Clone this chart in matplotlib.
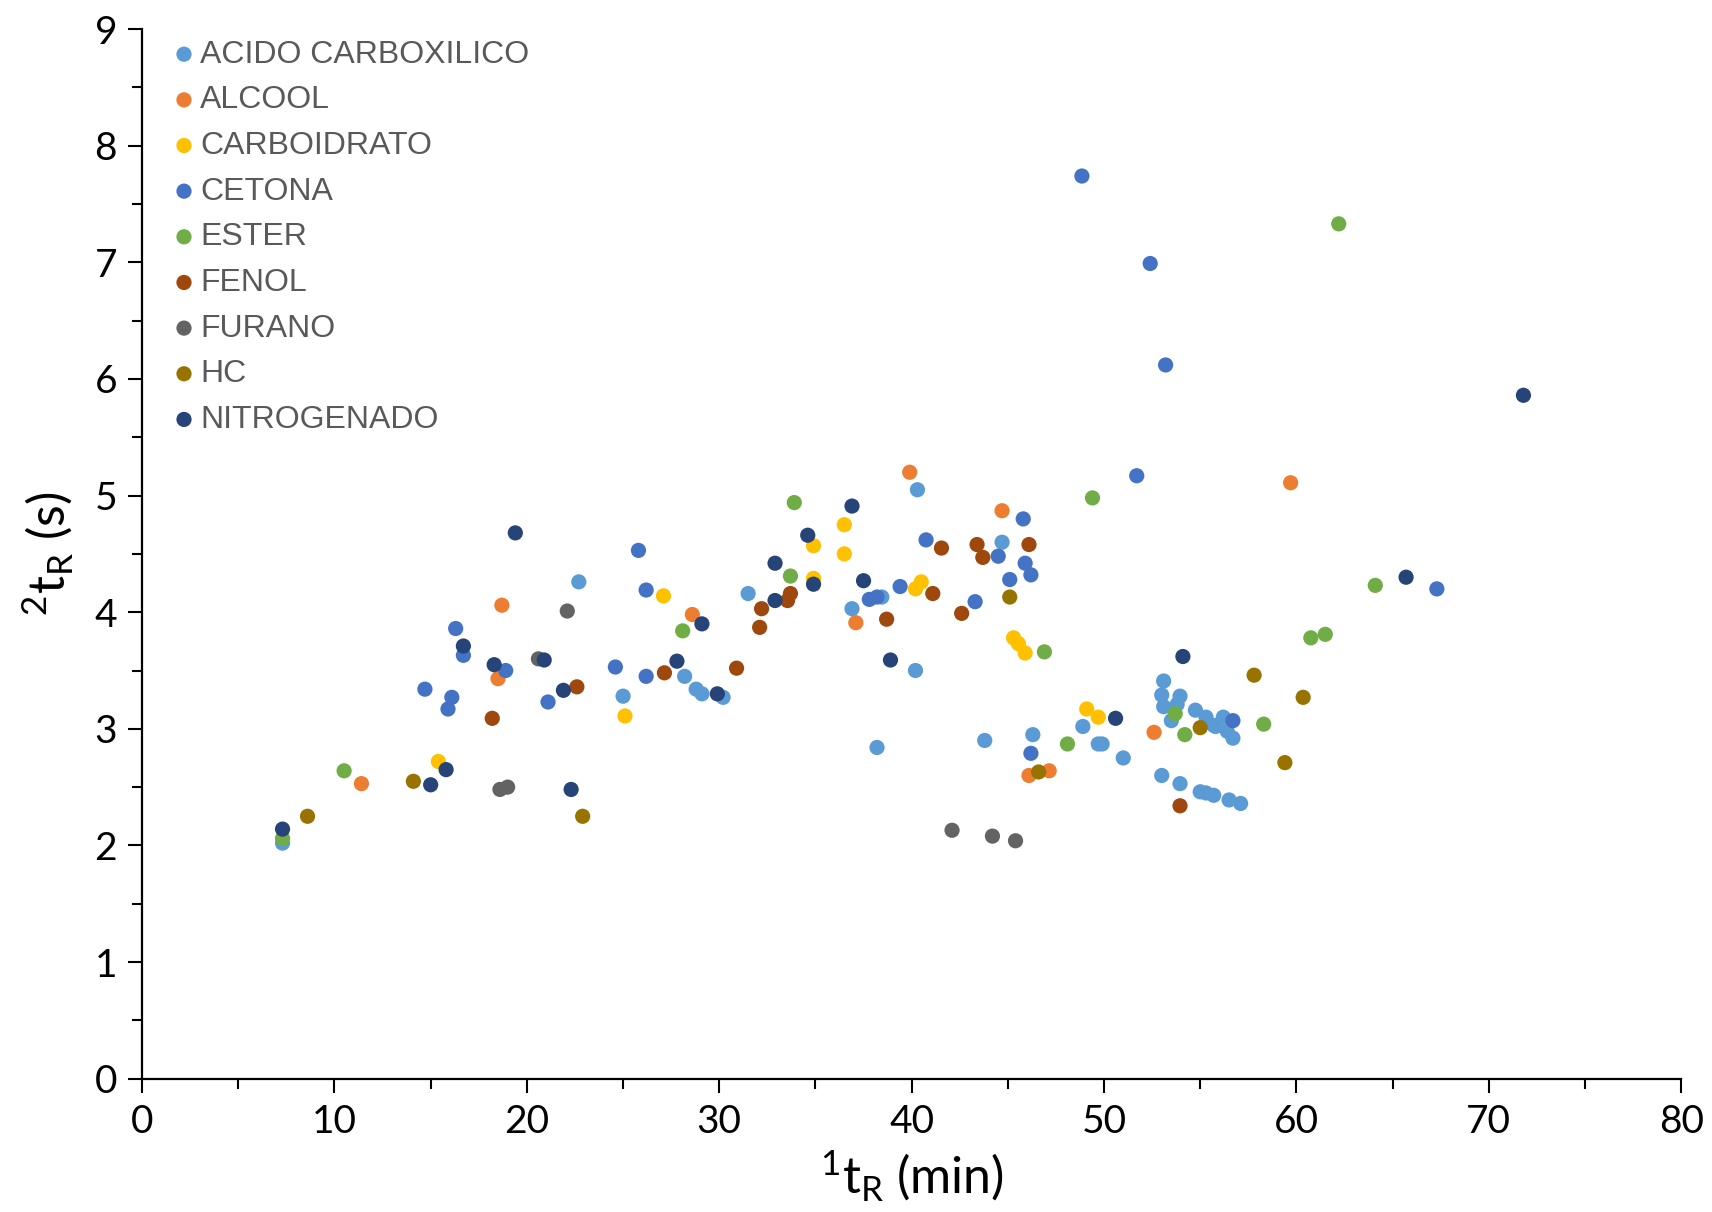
import matplotlib
matplotlib.use("Agg")
import matplotlib.pyplot as plt
from matplotlib.ticker import MultipleLocator

plt.rcParams['font.family'] = ['Lato', 'DejaVu Sans']

# compound classes and their colours
classes = ['ACIDO CARBOXILICO', 'ALCOOL', 'CARBOIDRATO', 'CETONA', 'ESTER',
           'FENOL', 'FURANO', 'HC', 'NITROGENADO']
colors = ['#5B9BD5', '#ED7D31', '#FFC000', '#4472C4', '#70AD47',
          '#9E480E', '#636363', '#997300', '#264478']

# first dimension retention (min) / second dimension retention (s)
ac_x = [7.3, 22.7, 25.0, 28.2, 28.8, 29.1, 30.2, 31.5, 36.9, 38.45, 40.3, 40.2, 38.2, 44.7,
        43.8, 46.3, 48.9, 49.7, 49.9, 51.0, 53.1, 53.0, 53.1, 53.95, 53.8, 53.5, 54.75, 55.3,
        55.7, 56.2, 55.8, 56.4, 56.7, 53.0, 53.95, 55.0, 55.3, 55.7, 56.5, 57.1]
ac_y = [2.02, 4.26, 3.28, 3.45, 3.34, 3.30, 3.27, 4.16, 4.03, 4.13, 5.05, 3.50, 2.84, 4.60,
        2.90, 2.95, 3.02, 2.87, 2.87, 2.75, 3.41, 3.29, 3.19, 3.28, 3.21, 3.07, 3.16, 3.10,
        3.03, 3.10, 3.02, 2.98, 2.92, 2.60, 2.53, 2.46, 2.45, 2.43, 2.39, 2.36]

alcool_x = [11.4, 18.5, 18.7, 28.6, 39.9, 44.7, 37.1, 46.1, 47.15, 52.6, 59.7]
alcool_y = [2.53, 3.43, 4.06, 3.98, 5.20, 4.87, 3.91, 2.60, 2.64, 2.97, 5.11]

carb_x = [15.4, 25.1, 27.1, 36.5, 36.5, 34.9, 34.9, 40.5, 40.2, 45.3, 45.55, 45.9, 49.1, 49.7]
carb_y = [2.72, 3.11, 4.14, 4.75, 4.50, 4.57, 4.29, 4.26, 4.20, 3.78, 3.73, 3.65, 3.17, 3.10]

cetona_x = [14.7, 15.9, 16.1, 16.3, 16.7, 18.9, 21.1, 24.6, 25.8, 26.2, 26.2, 37.8, 38.2, 39.4,
            40.75, 43.3, 44.5, 45.1, 45.8, 45.9, 46.2, 46.2, 48.85, 51.7, 52.4, 53.2, 56.7, 67.3]
cetona_y = [3.34, 3.17, 3.27, 3.86, 3.63, 3.50, 3.23, 3.53, 4.53, 4.19, 3.45, 4.11, 4.13, 4.22,
            4.62, 4.09, 4.48, 4.28, 4.80, 4.42, 4.32, 2.79, 7.74, 5.17, 6.99, 6.12, 3.07, 4.20]

ester_x = [7.3, 10.5, 28.1, 33.9, 33.7, 46.9, 49.4, 48.1, 53.7, 54.2, 58.3, 60.75, 61.5, 64.1, 62.2]
ester_y = [2.06, 2.64, 3.84, 4.94, 4.31, 3.66, 4.98, 2.87, 3.13, 2.95, 3.04, 3.78, 3.81, 4.23, 7.33]

fenol_x = [18.2, 22.6, 27.15, 30.9, 32.2, 32.1, 33.7, 33.55, 38.7, 41.55, 41.1, 42.6, 43.4, 43.7,
           46.1, 53.95]
fenol_y = [3.09, 3.36, 3.48, 3.52, 4.03, 3.87, 4.16, 4.10, 3.94, 4.55, 4.16, 3.99, 4.58, 4.47,
           4.58, 2.34]

furano_x = [18.6, 19.0, 20.6, 22.1, 42.1, 44.2, 45.4]
furano_y = [2.48, 2.50, 3.60, 4.01, 2.13, 2.08, 2.04]

hc_x = [8.6, 14.1, 22.9, 45.1, 46.6, 55.0, 57.8, 60.35, 59.4]
hc_y = [2.25, 2.55, 2.25, 4.13, 2.63, 3.01, 3.46, 3.27, 2.71]

nitro_x = [7.3, 15.0, 15.8, 22.3, 19.4, 16.7, 18.3, 20.9, 21.9, 29.1, 27.8, 29.9, 32.9, 32.9,
           34.6, 34.9, 36.9, 37.5, 38.9, 50.6, 54.1, 65.7, 71.8]
nitro_y = [2.14, 2.52, 2.65, 2.48, 4.68, 3.71, 3.55, 3.59, 3.33, 3.90, 3.58, 3.30, 4.42, 4.10,
           4.66, 4.24, 4.91, 4.27, 3.59, 3.09, 3.62, 4.30, 5.86]

series = [(ac_x, ac_y), (alcool_x, alcool_y), (carb_x, carb_y), (cetona_x, cetona_y),
          (ester_x, ester_y), (fenol_x, fenol_y), (furano_x, furano_y), (hc_x, hc_y),
          (nitro_x, nitro_y)]

fig = plt.figure(figsize=(17.12, 12.12), dpi=100)
ax = fig.add_axes([0.083, 0.110, 0.899, 0.866])

for name, col, (xs, ys) in zip(classes, colors, series):
    ax.scatter(xs, ys, s=120, color=col, edgecolors='none', label=name, zorder=3)

ax.set_xlim(0, 80)
ax.set_ylim(0, 9)
ax.xaxis.set_major_locator(MultipleLocator(10))
ax.xaxis.set_minor_locator(MultipleLocator(5))
ax.yaxis.set_major_locator(MultipleLocator(1))
ax.yaxis.set_minor_locator(MultipleLocator(0.5))
ax.tick_params(which='major', length=10, width=1.5, labelsize=28, pad=8)
ax.tick_params(which='minor', length=7, width=1.5)
ax.tick_params(axis='x', which='both', direction='out')

for side in ['top', 'right']:
    ax.spines[side].set_visible(False)
for side in ['left', 'bottom']:
    ax.spines[side].set_linewidth(1.6)

ax.set_xlabel(r'$\mathregular{^1t_R}$ (min)', fontsize=36, labelpad=6)
ax.set_ylabel(r'$\mathregular{^2t_R}$ (s)', fontsize=36, labelpad=14)

leg = ax.legend(loc='upper left', frameon=False, handlelength=0.6, handletextpad=0.2,
                labelspacing=0.49, borderpad=0, borderaxespad=0,
                bbox_to_anchor=(0.021, 0.990), markerscale=1.0,
                prop={'family': ['Liberation Sans', 'DejaVu Sans'], 'size': 23})
for t in leg.get_texts():
    t.set_color('#595959')

fig.savefig('out.png', dpi=100)
